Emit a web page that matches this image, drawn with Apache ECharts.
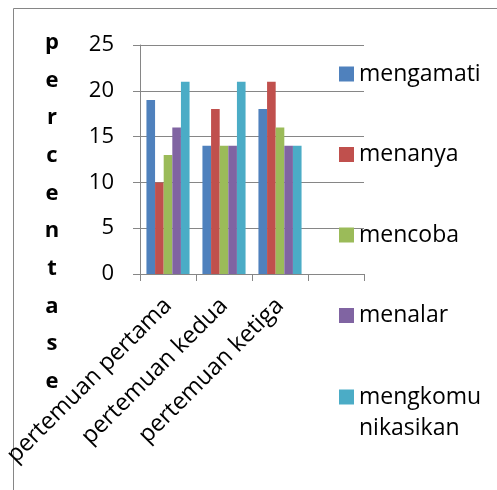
<!DOCTYPE html>
<html>
<head>
<meta charset="utf-8">
<script src="https://cdn.jsdelivr.net/npm/echarts@6/dist/echarts.min.js"></script>
<style>
  html, body { margin: 0; padding: 0; background: #fff; }
  #chart { width: 497px; height: 490px; }
</style>
</head>
<body>
<div id="chart"></div>
<script>
// Meetings (the last slot is left empty on purpose)
const categories = ['pertemuan pertama', 'pertemuan kedua', 'pertemuan ketiga', ''];

// Percentages per activity, one value per meeting
const mengamati = [19, 14, 18];
const menanya = [10, 18, 21];
const mencoba = [13, 14, 16];
const menalar = [16, 14, 14];
const mengkomunikasikan = [21, 21, 14];

const seriesNames = ['mengamati', 'menanya', 'mencoba', 'menalar', 'mengkomunikasikan'];
const seriesValues = [mengamati, menanya, mencoba, menalar, mengkomunikasikan];
const colors = ['#4F81BD', '#C0504D', '#9BBB59', '#8064A2', '#4BACC6'];

const yTitle = 'percentase';

const FONT = '"Open Sans", "Noto Sans", sans-serif';
const GRAY = '#868686';

const chart = echarts.init(document.getElementById('chart'), null, { renderer: 'canvas' });

const legendText = {
  fontFamily: FONT,
  fontSize: 23,
  color: '#000',
  lineHeight: 31
};

chart.setOption({
  animation: false,
  color: colors,
  title: {
    text: yTitle.split('').join('\n'),
    left: 52,
    top: 24,
    padding: 0,
    textAlign: 'center',
    textStyle: {
      fontFamily: FONT,
      fontSize: 22,
      fontWeight: 'bold',
      color: '#000',
      lineHeight: 37.67
    }
  },
  graphic: [{
    type: 'rect',
    shape: { x: 13.5, y: 8.5, width: 700, height: 700 },
    style: { fill: 'none', stroke: GRAY, lineWidth: 1 },
    silent: true,
    z: -1
  }],
  legend: [{
    orient: 'vertical',
    left: 339,
    top: 58.5,
    padding: 0,
    itemWidth: 15,
    itemHeight: 15,
    itemGap: 49.5,
    icon: 'rect',
    textStyle: legendText,
    data: seriesNames.slice(0, 4)
  }, {
    orient: 'vertical',
    left: 339,
    top: 350.5,
    padding: 0,
    itemWidth: 15,
    itemHeight: 15,
    icon: 'rect',
    textStyle: legendText,
    // wrap the long name over two lines, first line beside the swatch
    formatter: function (name) {
      return '\n' + name.slice(0, 8) + '\n' + name.slice(8);
    },
    data: seriesNames.slice(4)
  }],
  grid: {
    left: 140,
    right: 133,
    top: 45,
    bottom: 216,
    outerBoundsMode: 'none'
  },
  xAxis: {
    type: 'category',
    data: categories,
    boundaryGap: true,
    axisLine: { show: true, lineStyle: { color: GRAY, width: 1 } },
    axisTick: { show: true, length: 7, alignWithLabel: false, interval: 0, lineStyle: { color: GRAY } },
    axisLabel: {
      interval: 0,
      rotate: 45,
      margin: 28,
      fontFamily: FONT,
      fontSize: 23.5,
      color: '#000'
    },
    splitLine: { show: false }
  },
  yAxis: {
    type: 'value',
    min: 0,
    max: 25,
    interval: 5,
    axisLine: { show: true, lineStyle: { color: GRAY, width: 1 } },
    axisTick: { show: true, length: 7, lineStyle: { color: GRAY } },
    axisLabel: {
      margin: 26,
      fontFamily: FONT,
      fontSize: 22,
      color: '#000'
    },
    splitLine: { show: true, lineStyle: { color: GRAY, width: 1 } }
  },
  series: seriesNames.map(function (name, i) {
    return {
      name: name,
      type: 'bar',
      data: seriesValues[i],
      barGap: '0%',
      barCategoryGap: '23%',
      itemStyle: { color: colors[i] }
    };
  })
});
</script>
</body>
</html>
